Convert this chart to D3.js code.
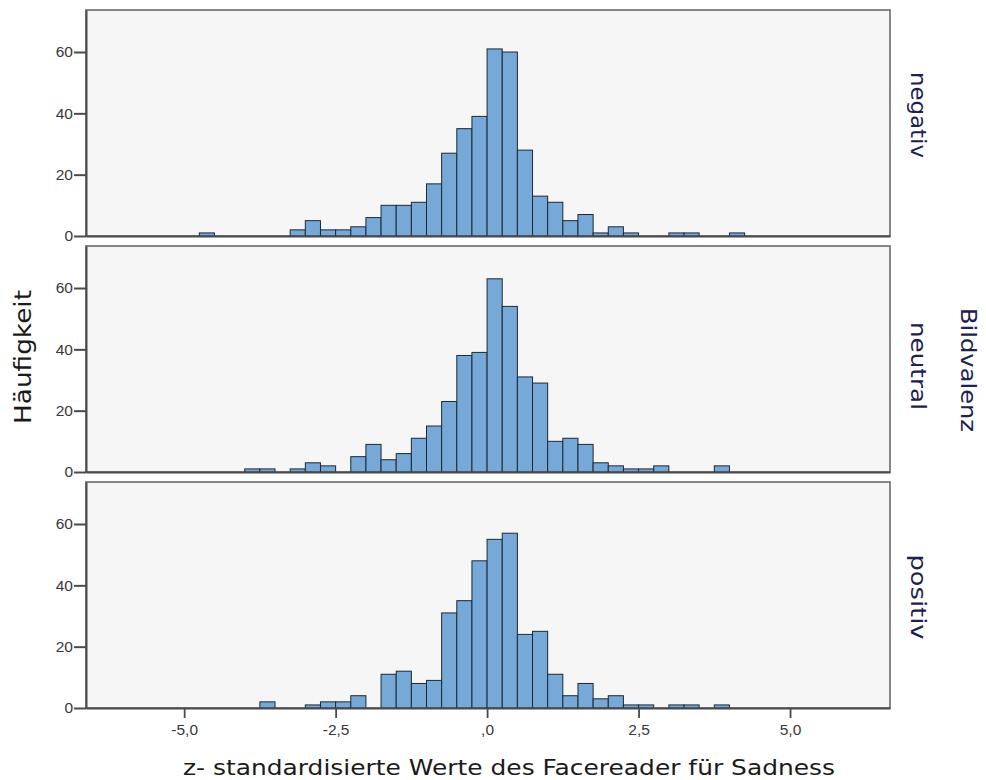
<!DOCTYPE html>
<html><head><meta charset="utf-8">
<script src="https://cdn.jsdelivr.net/npm/d3@7"></script>
<style>body{margin:0;background:#fff}svg{display:block}
.tk text{font-family:"Liberation Sans",Arial,sans-serif;font-size:15.5px;fill:#383838}</style>
</head><body>
<svg id="c" width="986" height="780"></svg>
<script>
// Bin lower edges (bin width 0.25)
const binWidth = 0.25;
const binStarts = [-4.75,-4.5,-4.25,-4.0,-3.75,-3.5,-3.25,-3.0,-2.75,-2.5,-2.25,-2.0,-1.75,-1.5,-1.25,-1.0,-0.75,-0.5,-0.25,0,0.25,0.5,0.75,1.0,1.25,1.5,1.75,2.0,2.25,2.5,2.75,3.0,3.25,3.5,3.75,4.0];
const categories = ["negativ","neutral","positiv"];
const countsNegativ = [1,0,0,0,0,0,2,5,2,2,3,6,10,10,11,17,27,35,39,61,60,28,13,11,5,7,1,3,1,0,0,1,1,0,0,1];
const countsNeutral = [0,0,0,1,1,0,1,3,2,0,5,9,4,6,11,15,23,38,39,63,54,31,29,10,11,9,3,2,1,1,2,0,0,0,2,0];
const countsPositiv = [0,0,0,0,2,0,0,1,2,2,4,0,11,12,8,9,31,35,48,55,57,24,25,11,4,8,3,4,1,1,0,1,1,0,1,0];
const xTicks = [-5,-2.5,0,2.5,5];
const xTickLabels = ["-5,0","-2,5",",0","2,5","5,0"];
const yTicks = [0,20,40,60];
const xTitle = "z- standardisierte Werte des Facereader für Sadness";
const yTitle = "Häufigkeit";
const facetTitle = "Bildvalenz";

const series = [countsNegativ, countsNeutral, countsPositiv];
const labelCenters = [115, 366, 597];
const labelLengths = [86, 88, 85];
const svg = d3.select("#c");
const left = 86, right = 890;
const panelTop = [10, 246, 482], panelH = 226;
const x = d3.scaleLinear().domain([-6.62, 6.65]).range([left, right]);

categories.forEach((cat, i) => {
  const top = panelTop[i], bottom = top + panelH;
  const y = d3.scaleLinear().domain([0, 73.7]).range([bottom, top]);
  const g = svg.append("g");
  g.append("rect").attr("x", left).attr("y", top).attr("width", right-left).attr("height", panelH)
    .attr("fill", "#f6f6f6").attr("stroke", "#6a6a6a").attr("stroke-width", 1.6);
  const data = binStarts.map((s, k) => ({s, v: series[i][k]})).filter(d => d.v > 0);
  g.selectAll("rect.bar").data(data).enter().append("rect").attr("class","bar")
    .attr("x", d => x(d.s)).attr("width", d => x(d.s + binWidth) - x(d.s))
    .attr("y", d => y(d.v)).attr("height", d => y(0) - y(d.v))
    .attr("fill", "#76a9d8").attr("stroke", "#1d2833").attr("stroke-width", 1);
  // y axis
  const ya = g.append("g").attr("class", "tk").attr("transform", `translate(${left},0)`)
    .call(d3.axisLeft(y).tickValues(yTicks).tickSize(12).tickPadding(1).tickSizeOuter(0).tickFormat(d3.format("d")));
  ya.attr("font-size", null).attr("font-family", null);
  ya.select(".domain").attr("stroke", "#4a4a4a").attr("stroke-width", 2);
  ya.selectAll(".tick line").attr("stroke", "#4a4a4a").attr("stroke-width", 2);
  // bottom axis line
  const xa = g.append("g").attr("class", "tk").attr("transform", `translate(0,${bottom})`)
    .call(d3.axisBottom(x).tickValues(i === 2 ? xTicks : []).tickSize(i === 2 ? 10 : 0).tickPadding(6).tickSizeOuter(0)
      .tickFormat((d, k) => xTickLabels[k]));
  xa.attr("font-size", null).attr("font-family", null);
  xa.select(".domain").attr("stroke", "#4a4a4a").attr("stroke-width", 2);
  xa.selectAll(".tick line").attr("stroke", "#4a4a4a").attr("stroke-width", 1.8);
  // facet label
  svg.append("text").attr("transform", `translate(${911},${labelCenters[i]}) rotate(90)`)
    .attr("text-anchor", "middle").attr("font-family", "DejaVu Sans, sans-serif").attr("font-size", 21)
    .attr("textLength", labelLengths[i]).attr("lengthAdjust", "spacingAndGlyphs")
    .attr("fill", "#1c2150").text(cat);
});

svg.append("text").attr("transform", "translate(961,370) rotate(90)").attr("text-anchor", "middle")
  .attr("font-family", "DejaVu Sans, sans-serif").attr("font-size", 22).attr("fill", "#1c2150")
  .attr("textLength", 124).attr("lengthAdjust", "spacingAndGlyphs").text(facetTitle);
svg.append("text").attr("transform", "translate(31,357) rotate(-90)").attr("text-anchor", "middle")
  .attr("font-family", "DejaVu Sans, sans-serif").attr("font-size", 23).attr("fill", "#1a1a1a")
  .attr("textLength", 134).attr("lengthAdjust", "spacingAndGlyphs").text(yTitle);
svg.append("text").attr("x", 509).attr("y", 775).attr("text-anchor", "middle")
  .attr("font-family", "DejaVu Sans, sans-serif").attr("font-size", 21).attr("fill", "#1a1a1a")
  .attr("textLength", 652).attr("lengthAdjust", "spacingAndGlyphs").text(xTitle);
</script>
</body></html>
